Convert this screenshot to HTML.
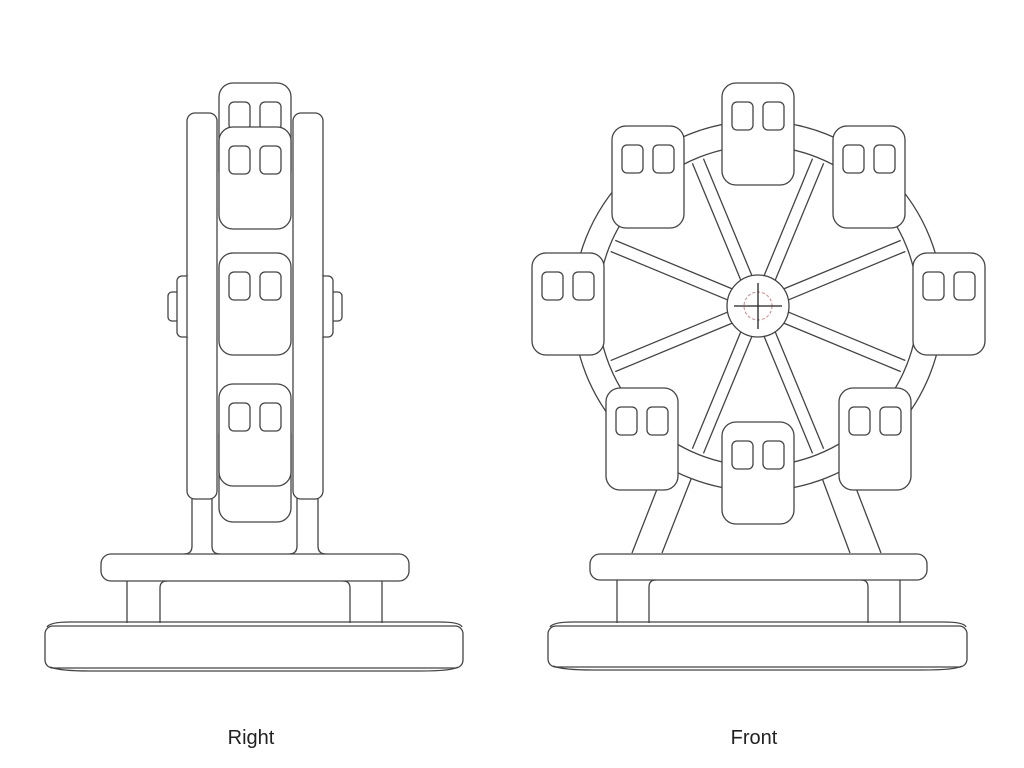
<!DOCTYPE html>
<html><head><meta charset="utf-8"><style>
html,body{margin:0;padding:0;background:#fff;}
svg{display:block;}
text{font-family:"Liberation Sans",sans-serif;font-size:20px;fill:#222;}
</style></head><body>
<svg width="1024" height="768" viewBox="0 0 1024 768" xmlns="http://www.w3.org/2000/svg">
<defs>
<g id="cab">
<rect x="0" y="0" width="72" height="102" rx="14" fill="#fff" stroke="#444" stroke-width="1.3"/>
<rect x="10" y="19" width="21" height="28" rx="5" fill="none" stroke="#444" stroke-width="1.3"/>
<rect x="41" y="19" width="21" height="28" rx="5" fill="none" stroke="#444" stroke-width="1.3"/>
</g>
</defs>
<g fill="#fff" stroke="#444" stroke-width="1.3">
<!-- ===== RIGHT VIEW ===== -->
<!-- legs -->
<path d="M192 495 V546 Q192 554 184 554 M212 495 V546 Q212 554 220 554"/>
<path d="M297 495 V546 Q297 554 289 554 M318 495 V546 Q318 554 326 554"/>
<!-- back cabins -->
<use href="#cab" x="219" y="83"/>
<use href="#cab" x="219" y="420"/>
<!-- posts -->
<rect x="187" y="113" width="30" height="386" rx="8"/>
<rect x="293" y="113" width="30" height="386" rx="8"/>
<!-- hub bumps -->
<rect x="168" y="292" width="14" height="29" rx="4"/>
<rect x="177" y="276" width="14" height="61" rx="5"/>
<rect x="187" y="276" width="6" height="61" stroke="none"/>
<rect x="328" y="292" width="14" height="29" rx="4"/>
<rect x="319" y="276" width="14" height="61" rx="5"/>
<rect x="317" y="276" width="6" height="61" stroke="none"/>
<line x1="187" y1="276" x2="187" y2="337"/>
<line x1="323" y1="276" x2="323" y2="337"/>
<!-- front cabins -->
<use href="#cab" x="219" y="127"/>
<use href="#cab" x="219" y="253"/>
<use href="#cab" x="219" y="384"/>
<!-- base -->
<path d="M127 581 V623 M160 623 V588 Q160 581 167 581 M350 623 V588 Q350 581 343 581 M382 581 V623"/>
<rect x="101" y="554" width="308" height="27" rx="10"/>
<path d="M47 627 Q50 622 70 622 L440 622 Q460 622 462 627" fill="none"/>
<rect x="45" y="626" width="418" height="42" rx="8"/>
<path d="M50 667 Q60 671 90 671 L420 671 Q452 671 458 667" fill="none"/>

<!-- ===== FRONT VIEW ===== -->
<!-- legs -->
<path d="M664.5 470 L632 553 M694.6 470 L662 553 M849 470 L881 553 M819 470 L850 553" fill="none"/>
<!-- ring -->
<circle cx="758" cy="306" r="185"/>
<circle cx="758" cy="306" r="160"/>
<!-- spokes -->
<g id="spokes" fill="none">
<path d="M788 300 L915 300 M788 312 L915 312" transform="rotate(22.5 758 306)"/>
<path d="M788 300 L915 300 M788 312 L915 312" transform="rotate(67.5 758 306)"/>
<path d="M788 300 L915 300 M788 312 L915 312" transform="rotate(112.5 758 306)"/>
<path d="M788 300 L915 300 M788 312 L915 312" transform="rotate(157.5 758 306)"/>
<path d="M788 300 L915 300 M788 312 L915 312" transform="rotate(202.5 758 306)"/>
<path d="M788 300 L915 300 M788 312 L915 312" transform="rotate(247.5 758 306)"/>
<path d="M788 300 L915 300 M788 312 L915 312" transform="rotate(292.5 758 306)"/>
<path d="M788 300 L915 300 M788 312 L915 312" transform="rotate(337.5 758 306)"/>
</g>
<!-- hub -->
<circle cx="758" cy="306" r="31"/>
<circle cx="758" cy="306" r="14" stroke="#e08080" stroke-dasharray="3 2" stroke-width="1"/>
<path d="M734 306 H782 M758 283 V329" stroke="#222" fill="none"/>
<!-- cabins -->
<use href="#cab" x="722" y="83"/>
<use href="#cab" x="612" y="126"/>
<use href="#cab" x="833" y="126"/>
<use href="#cab" x="532" y="253"/>
<use href="#cab" x="913" y="253"/>
<use href="#cab" x="606" y="388"/>
<use href="#cab" x="839" y="388"/>
<use href="#cab" x="722" y="422"/>
<!-- base -->
<path d="M617 580 V623 M649 623 V587 Q649 580 656 580 M868 623 V587 Q868 580 861 580 M900 580 V623"/>
<rect x="590" y="554" width="337" height="26" rx="10"/>
<path d="M550 627 Q553 622 573 622 L944 622 Q964 622 966 627" fill="none"/>
<rect x="548" y="626" width="419" height="41" rx="8"/>
<path d="M553 666 Q563 670 593 670 L922 670 Q956 670 962 666" fill="none"/>
</g>
<text x="251" y="744" text-anchor="middle">Right</text>
<text x="754" y="744" text-anchor="middle">Front</text>
</svg>
</body></html>
